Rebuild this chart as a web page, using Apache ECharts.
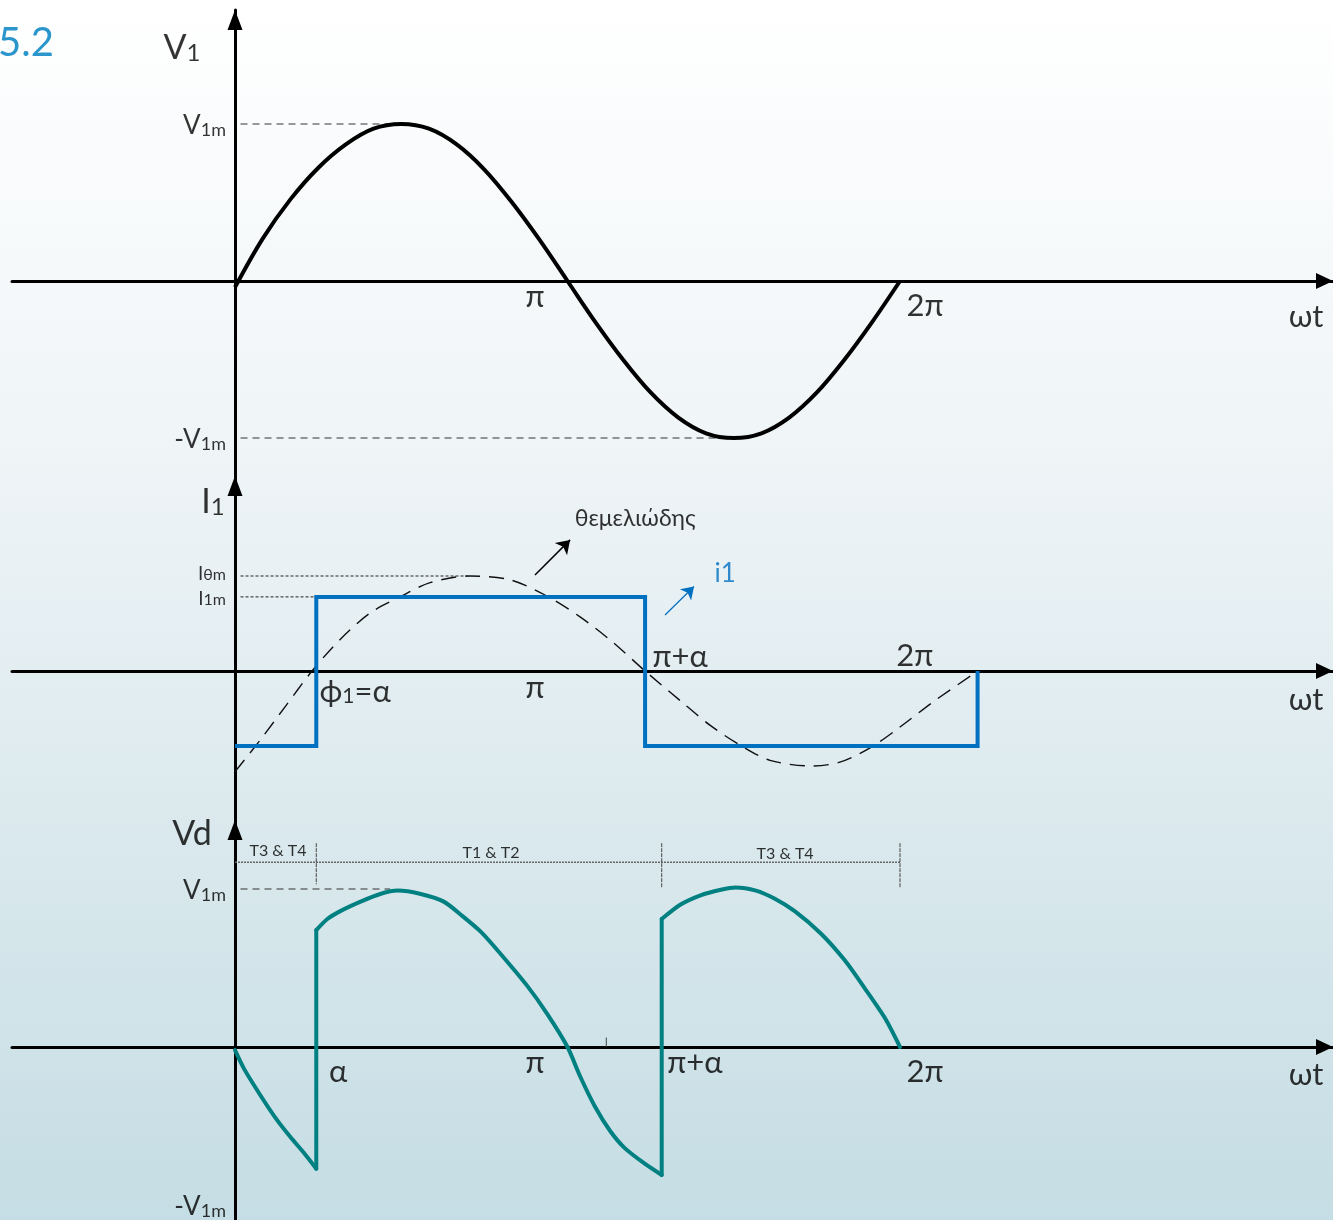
<!DOCTYPE html>
<html><head><meta charset="utf-8">
<script src="https://cdn.jsdelivr.net/npm/echarts@6/dist/echarts.min.js"></script>
<style>html,body{margin:0;padding:0;overflow:hidden;} #c{width:1333px;height:1220px;}</style>
</head><body><div id="c"></div>
<script>
// ===== DATA (x in degrees of ωt, y in per-unit of the panel's peak) =====
// Panel 1: supply voltage V1
const v1Deg = [0,15,30,45,60,75,90,105,120,135,150,165,180,195,210,225,240,255,270,285,300,315,330,345,360];
const v1Val = [-0.04,0.27,0.52,0.72,0.87,0.97,1.0,0.97,0.87,0.71,0.5,0.26,0,-0.26,-0.5,-0.71,-0.87,-0.97,-1.0,-0.97,-0.87,-0.71,-0.5,-0.26,0];
const v1PeakGuideDeg = [3, 84];
const v1TroughGuideDeg = [3, 262];

// Panel 2: input current i1 (square) and its fundamental (dashed)
const i1Deg = [0,44,44,222,222,402,402];
const i1Val = [-0.79,-0.79,0.78,0.78,-0.79,-0.79,0];
const fundDeg = [0,13.5,27,41.7,56.8,73.1,89.3,105.6,127.2,148.9,167.8,186.8,204.1,222,240.9,257.1,273.4,289.6,312.4,327.5,343.8,360,379,402.2];
const fundVal = [-1.06,-0.73,-0.38,0,0.33,0.61,0.78,0.93,1.0,0.96,0.80,0.57,0.31,0,-0.31,-0.57,-0.78,-0.94,-1.0,-0.96,-0.81,-0.59,-0.31,0];
const i0mGuideDeg = [3, 127];
const i1mGuideDeg = [3, 44];

// Panel 3: output voltage Vd
const vdDeg = [0,5,14,22,30,38,44,44,50,57,68,79,88,100,113,123,133,143,158,169,180,187,195,203,211,222,231,231,241,252,263,271,282,292,303,317,330,341,352,360];
const vdVal = [-0.02,-0.14,-0.31,-0.45,-0.57,-0.68,-0.77,0.74,0.81,0.86,0.92,0.97,0.99,0.97,0.92,0.83,0.73,0.60,0.39,0.21,0,-0.19,-0.38,-0.53,-0.64,-0.74,-0.81,0.81,0.90,0.96,0.995,1.01,0.99,0.94,0.86,0.72,0.55,0.37,0.18,0];
const vdPeakGuideDeg = [3, 84];
const conductionBoundsDeg = [0, 44, 231, 360];
const conductionNames = ['T3 & T4', 'T1 & T2', 'T3 & T4'];

// ===== LAYOUT =====
const X0 = 235, PX_PER_DEG = 665 / 360, LEFT = 12, RIGHT = 1333;
const xMin = -(X0 - LEFT) / PX_PER_DEG, xMax = (RIGHT - X0) / PX_PER_DEG;
const panels = [
  {zero: 281, unit: 157, top: 10, bottom: 476},
  {zero: 671, unit: 95, top: 476, bottom: 820},
  {zero: 1047, unit: 158, top: 820, bottom: 1220}
];
const zip = (xs, ys) => xs.map((x, i) => [x, ys[i]]);
const FONT = 'Lato, "Noto Sans", "DejaVu Sans", sans-serif';
const INK = '#000';

const grids = panels.map(p => ({left: LEFT, width: RIGHT - LEFT, top: p.top, height: p.bottom - p.top, containLabel: false}));
const xAxes = panels.map((p, i) => ({
  type: 'value', gridIndex: i, min: xMin, max: xMax,
  axisLine: {onZero: true, lineStyle: {color: '#000', width: 3}, symbol: ['none', 'triangle'], symbolSize: [16, 17], symbolOffset: [0, -8.5]},
  axisTick: {show: false}, axisLabel: {show: false}, splitLine: {show: false}
}));
const yAxes = panels.map((p, i) => ({
  type: 'value', gridIndex: i, min: -(p.bottom - p.zero) / p.unit, max: (p.zero - p.top) / p.unit,
  axisLine: {onZero: true, lineStyle: {color: '#000', width: 3}, symbol: ['none', 'triangle'], symbolSize: [15, 20], symbolOffset: [0, -10]},
  axisTick: {show: false}, axisLabel: {show: false}, splitLine: {show: false}
}));

const rich = {
  A: {fontSize: 34, lineHeight: 40, verticalAlign: 'bottom', fontFamily: FONT, color: INK},
  a: {fontSize: 24, lineHeight: 34, verticalAlign: 'bottom', fontFamily: FONT, color: INK},
  M: {fontSize: 26, lineHeight: 30, verticalAlign: 'bottom', fontFamily: FONT, color: INK},
  m: {fontSize: 18, lineHeight: 26, verticalAlign: 'bottom', fontFamily: FONT, color: INK},
  S: {fontSize: 19, lineHeight: 22, verticalAlign: 'bottom', fontFamily: FONT, color: INK},
  s: {fontSize: 16, lineHeight: 20, verticalAlign: 'bottom', fontFamily: FONT, color: INK},
  N: {fontSize: 31, lineHeight: 36, verticalAlign: 'bottom', fontFamily: FONT, color: INK},
  n: {fontSize: 21, lineHeight: 30, verticalAlign: 'bottom', fontFamily: FONT, color: INK}
};

function labelSeries(gi, items) {
  return {
    type: 'scatter', xAxisIndex: gi, yAxisIndex: gi, symbolSize: 0, silent: true, z: 20,
    data: items.map(it => ({
      value: [it[1], it[2]],
      label: {show: true, position: [0, 0], formatter: it[0], align: it[3] || 'center', verticalAlign: 'middle',
        rich: rich, fontFamily: FONT, fontSize: it[4] || 31, color: it[5] || INK}
    }))
  };
}
function lineS(gi, data, style, extra) {
  return Object.assign({type: 'line', xAxisIndex: gi, yAxisIndex: gi, data: data, showSymbol: false, symbol: 'none',
    silent: true, lineStyle: style, animation: false}, extra || {});
}
const guide = {color: '#333', width: 1, type: [7, 5]};
const fineGuide = {color: '#222', width: 1, type: [3, 2]};

// split Vd into smooth arcs and vertical commutation jumps
const vdArcs = [], vdJumps = [];
vdDeg.forEach((x, i) => {
  if (i > 0 && x === vdDeg[i - 1]) {
    vdArcs.push('-');
    vdJumps.push([x, vdVal[i - 1]], [x, vdVal[i]], '-');
  }
  vdArcs.push([x, vdVal[i]]);
});

const arrowLine = (coords, color, width) => ({coords: coords, lineStyle: {color: color, width: width, opacity: 1, curveness: 0}});

const series = [
  lineS(0, zip(v1Deg, v1Val), {color: '#000', width: 4}, {smooth: 0.35, z: 5}),
  lineS(0, v1PeakGuideDeg.map(x => [x, 1]), guide),
  lineS(0, v1TroughGuideDeg.map(x => [x, -1]), guide),

  lineS(1, zip(fundDeg, fundVal), {color: '#111', width: 1.4, type: [15, 9]}, {smooth: 0.3, z: 4}),
  lineS(1, zip(i1Deg, i1Val), {color: '#0070c0', width: 4, join: 'miter'}, {z: 5}),
  lineS(1, i0mGuideDeg.map(x => [x, 1]), fineGuide),
  lineS(1, i1mGuideDeg.map(x => [x, 0.78]), fineGuide),
  {type: 'lines', coordinateSystem: 'cartesian2d', xAxisIndex: 1, yAxisIndex: 1, silent: true, z: 6,
    symbol: ['none', 'arrow'], symbolSize: 13, lineStyle: {opacity: 1},
    data: [arrowLine([[162.4, 1.01], [181.4, 1.38]], '#000', 1.5)]},
  {type: 'lines', coordinateSystem: 'cartesian2d', xAxisIndex: 1, yAxisIndex: 1, silent: true, z: 6,
    symbol: ['none', 'arrow'], symbolSize: 12, lineStyle: {opacity: 1},
    data: [arrowLine([[232.8, 0.59], [248.5, 0.89]], '#0070c0', 1.2)]},

  lineS(2, vdArcs, {color: '#008080', width: 4, join: 'round', cap: 'round'}, {smooth: 0.25, connectNulls: false, z: 5}),
  lineS(2, vdJumps, {color: '#008080', width: 4, cap: 'round'}, {connectNulls: false, z: 5}),
  lineS(2, vdPeakGuideDeg.map(x => [x, 1]), guide),
  lineS(2, [[conductionBoundsDeg[0], 1.17], [conductionBoundsDeg[3], 1.17]], {color: '#666', width: 1.5, type: [2, 1]}),
  lineS(2, [[conductionBoundsDeg[1], 1.29], [conductionBoundsDeg[1], 1.03]], {color: '#444', width: 1, type: [4, 1]}),
  lineS(2, [[conductionBoundsDeg[2], 1.29], [conductionBoundsDeg[2], 1.01]], {color: '#444', width: 1, type: [4, 1]}),
  lineS(2, [[conductionBoundsDeg[3], 1.29], [conductionBoundsDeg[3], 1.01]], {color: '#444', width: 1, type: [4, 1]}),
  lineS(2, [[201, 0], [201, 0.06]], {color: '#444', width: 1}),

  labelSeries(0, [
    ['{A|V}{a|1}', -28.7, 1.50],
    ['{M|V}{m|1m}', -4.9, 1.0, 'right'],
    ['{M|-V}{m|1m}', -4.9, -1.0, 'right'],
    ['π', 162.4, -0.10], ['2π', 373.6, -0.16], ['ωt', 579.8, -0.23]
  ]),
  labelSeries(1, [
    ['{A|I}{a|1}', -11.9, 1.81],
    ['{S|I}{s|θm}', -4.9, 1.04, 'right'],
    ['{S|I}{s|1m}', -4.9, 0.78, 'right'],
    ['θεμελιώδης', 216.6, 1.6, 'center', 23],
    ['i1', 265.3, 1.03, 'center', 26, '#0070c0'],
    ['π+α', 241, 0.15], ['2π', 368, 0.16],
    ['{N|ϕ}{n|1}{N|=α}', 65, -0.19],
    ['π', 162.4, -0.18], ['ωt', 579.8, -0.31]
  ]),
  labelSeries(2, [
    ['{A|Vd}', -23.3, 1.37],
    ['{M|V}{m|1m}', -4.9, 1.0, 'right'],
    ['{M|-V}{m|1m}', -4.9, -1.0, 'right'],
    ['α', 55.8, -0.16], ['π', 162.4, -0.10], ['π+α', 249, -0.10], ['2π', 373.6, -0.16], ['ωt', 579.8, -0.18],
    [conductionNames[0], 23.3, 1.24, 'center', 16],
    [conductionNames[1], 138.6, 1.23, 'center', 16],
    [conductionNames[2], 297.8, 1.22, 'center', 16]
  ])
];

const chart = echarts.init(document.getElementById('c'), null, {renderer: 'canvas'});
chart.setOption({
  animation: false,
  backgroundColor: {type: 'linear', x: 0, y: 0, x2: 0, y2: 1, colorStops: [
    {offset: 0, color: '#ffffff'}, {offset: 0.35, color: '#f0f5f7'}, {offset: 0.6, color: '#e0ecf0'}, {offset: 1, color: '#c5dde4'}]},
  title: {text: '5.2', left: -7, top: 18, textStyle: {fontSize: 40, fontWeight: 'normal', color: '#2a96cb', fontFamily: FONT}},
  grid: grids, xAxis: xAxes, yAxis: yAxes, series: series
});
</script></body></html>
